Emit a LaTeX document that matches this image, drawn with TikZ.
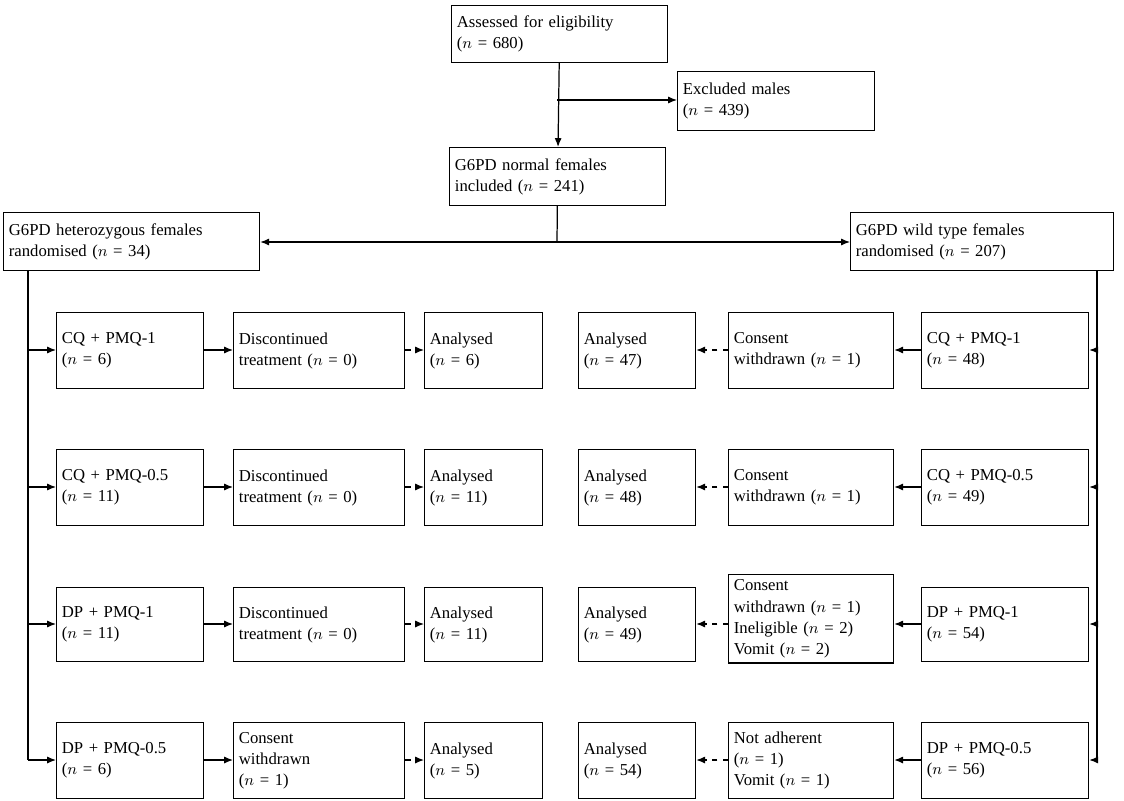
\documentclass[tikz,border=0pt]{standalone}
\usepackage{fontspec}
\setmainfont{Liberation Serif}
\usetikzlibrary{arrows.meta, positioning}
\tikzset{
  box/.style={draw, line width=0.7pt, align=left, inner sep=3pt, font=\fontsize{9.5}{12}\selectfont},
  ln/.style={line width=0.7pt},
  arr/.style={ln, -{Latex[length=5pt,width=4pt]}},
  darr/.style={arr, dashed},
}
\newcommand{\bx}[6]{% name, x1, y1, x2, y2, text
  \node[box, minimum width={(#4-#2)*0.02cm}, minimum height={(#5-#3)*0.02cm},
        text width={(#4-#2)*0.02cm-6pt}, anchor=north west] (#1) at (#2,#3) {#6};}
\begin{document}
\begin{tikzpicture}[x=0.02cm, y=-0.02cm]
\useasboundingbox (0,0) rectangle (1124,800);
\bx{assess}{451}{5}{667}{62}{Assessed for eligibility\\($n$ = 680)}
\bx{excl}{677}{71}{874}{130}{Excluded males\\($n$ = 439)}
\bx{norm}{449}{147}{665}{205}{G6PD normal females\\included ($n$ = 241)}
\bx{het}{3}{212}{259}{270}{G6PD heterozygous females\\randomised ($n$ = 34)}
\bx{wild}{850}{212}{1113}{270}{G6PD wild type females\\randomised ($n$ = 207)}
% left arm
\bx{la}{56}{312}{203}{388}{CQ + PMQ-1\\($n$ = 6)}
\bx{lb}{56}{449}{203}{525}{CQ + PMQ-0.5\\($n$ = 11)}
\bx{lc}{56}{587}{203}{661}{DP + PMQ-1\\($n$ = 11)}
\bx{ld}{56}{722}{203}{798}{DP + PMQ-0.5\\($n$ = 6)}
\bx{lda}{233}{312}{404}{388}{Discontinued\\treatment ($n$ = 0)}
\bx{ldb}{233}{449}{404}{525}{Discontinued\\treatment ($n$ = 0)}
\bx{ldc}{233}{587}{404}{661}{Discontinued\\treatment ($n$ = 0)}
\bx{ldd}{233}{722}{404}{798}{Consent\\withdrawn\\($n$ = 1)}
\bx{lxa}{424}{312}{542}{388}{Analysed\\($n$ = 6)}
\bx{lxb}{424}{449}{542}{525}{Analysed\\($n$ = 11)}
\bx{lxc}{424}{587}{542}{661}{Analysed\\($n$ = 11)}
\bx{lxd}{424}{722}{542}{798}{Analysed\\($n$ = 5)}
% right arm
\bx{ra}{921}{312}{1088}{388}{CQ + PMQ-1\\($n$ = 48)}
\bx{rb}{921}{449}{1088}{525}{CQ + PMQ-0.5\\($n$ = 49)}
\bx{rc}{921}{587}{1088}{661}{DP + PMQ-1\\($n$ = 54)}
\bx{rd}{921}{722}{1088}{798}{DP + PMQ-0.5\\($n$ = 56)}
\bx{rda}{728}{312}{893}{388}{Consent\\withdrawn ($n$ = 1)}
\bx{rdb}{728}{449}{893}{525}{Consent\\withdrawn ($n$ = 1)}
\bx{rdc}{728}{574}{893}{661}{Consent\\withdrawn ($n$ = 1)\\Ineligible ($n$ = 2)\\Vomit ($n$ = 2)}
\bx{rdd}{728}{722}{893}{798}{Not adherent\\($n$ = 1)\\Vomit ($n$ = 1)}
\bx{rxa}{578}{312}{695}{388}{Analysed\\($n$ = 47)}
\bx{rxb}{578}{449}{695}{525}{Analysed\\($n$ = 48)}
\bx{rxc}{578}{587}{695}{661}{Analysed\\($n$ = 49)}
\bx{rxd}{578}{722}{695}{798}{Analysed\\($n$ = 54)}
% connectors
\draw[arr] (assess) -- (norm);
\coordinate (split) at (557,100);
\draw[arr] (split) -- (split -| excl.west);
\coordinate (fork) at (557,242);
\draw[ln] (norm) -- (fork);
\draw[arr] (fork) -- (fork -| het.east);
\draw[arr] (fork) -- (fork -| wild.west);
\coordinate (ltop) at (28,270);
\coordinate (rtop) at (1097,270);
\draw[ln] (ltop) -- (28,760);
\draw[ln] (rtop) -- (1097,760);
\foreach \r/\y in {a/350,b/487,c/624,d/760} {
  \draw[arr] (28,\y) -- (l\r.west |- 0,\y);
  \draw[arr] (1097,\y) -- (r\r.east |- 0,\y);
  \draw[arr] (l\r.east |- 0,\y) -- (ld\r.west |- 0,\y);
  \draw[darr] (ld\r.east |- 0,\y) -- (lx\r.west |- 0,\y);
  \draw[arr] (r\r.west |- 0,\y) -- (rd\r.east |- 0,\y);
  \draw[darr] (rd\r.west |- 0,\y) -- (rx\r.east |- 0,\y);
}
\end{tikzpicture}
\end{document}
